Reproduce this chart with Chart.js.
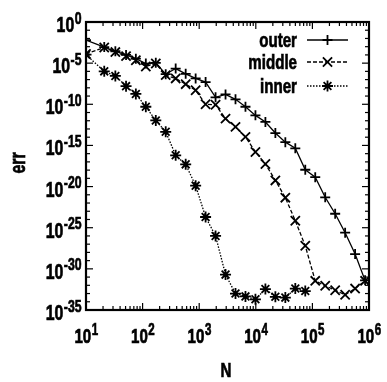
<!DOCTYPE html>
<html>
<head>
<meta charset="utf-8">
<script src="https://cdn.jsdelivr.net/npm/chart.js@4.4.0/dist/chart.umd.min.js"></script>
<style>
  html, body { margin: 0; padding: 0; background: #fff; }
  #wrap { width: 387px; height: 382px; }
</style>
</head>
<body>
<div id="wrap"><canvas id="errChart" width="387" height="382"></canvas></div>
<script>
// N samples (x axis)
const nValues = [10, 21, 33, 51, 76, 114, 171, 256, 384, 577, 865, 1297, 1946, 2919, 4379,
  6568, 9853, 14779, 22168, 33253, 49879, 74818, 112227, 168341, 252512, 378768, 568151, 852227, 1278340];

// err
const outerErr = [6.3e-3, 8.9e-4, 2.8e-4, 1.0e-4, 3.5e-5, 8.9e-6, 1.1e-5, 4.5e-7, 2.2e-6, 5.0e-7,
  1.4e-7, 5.0e-8, 7.1e-10, 1.6e-9, 4.0e-10, 5.0e-11, 4.5e-12, 7.1e-13, 3.2e-14, 2.5e-15,
  4.5e-16, 1.1e-18, 1.4e-19, 5.0e-22, 5.0e-24, 2.5e-26, 6.3e-29, 4.0e-32, 1.0e-33];
const middleErr = [1.3e-4, 7.9e-4, 2.2e-4, 7.1e-5, 2.2e-5, 4.0e-6, 8.9e-6, 3.5e-7, 1.4e-7, 2.8e-8,
  5.0e-9, 1.0e-10, 8.9e-11, 1.8e-12, 1.8e-13, 1.1e-14, 1.6e-16, 5.6e-18, 5.6e-20, 4.5e-22,
  7.1e-25, 6.3e-28, 3.5e-32, 8.9e-33, 2.5e-33, 7.1e-34, 4.0e-33, 3.5e-32];
const innerErr = [1.1e-4, 1.0e-6, 2.8e-7, 1.6e-8, 1.8e-9, 5.0e-11, 1.1e-12, 4.5e-14, 6.3e-17, 5.0e-18,
  1.3e-20, 2.0e-24, 1.0e-26, 2.0e-31, 1.0e-33, 4.5e-34, 2.0e-34, 3.5e-33, 4.0e-34, 3.2e-34,
  4.0e-33, 2.0e-33];

const xTickExp = [1, 2, 3, 4, 5, 6];
const yTickExp = [0, -5, -10, -15, -20, -25, -30, -35];
const seriesNames = ['outer', 'middle', 'inner'];

const toPoints = arr => arr.map((v, i) => ({ x: nValues[i], y: v }));

const SQ = 0.72;
const FONT = '"Liberation Sans", Arial, sans-serif';

function txt(ctx, s, x, y, size, align) {
  ctx.save();
  ctx.font = 'bold ' + size + 'px ' + FONT;
  ctx.textBaseline = 'alphabetic';
  ctx.textAlign = align;
  ctx.fillStyle = '#000';
  ctx.strokeStyle = '#000';
  ctx.lineWidth = 0.7;
  ctx.setLineDash([]);
  ctx.translate(x, y);
  ctx.scale(SQ, 1);
  ctx.fillText(s, 0, 0);
  ctx.strokeText(s, 0, 0);
  ctx.restore();
}

function txtWidth(ctx, s, size) {
  ctx.font = 'bold ' + size + 'px ' + FONT;
  return ctx.measureText(s).width * SQ;
}

function pow10(ctx, exp, x, y, align, size) {
  const e = String(exp);
  const es = Math.round(size * 0.78);
  const wb = txtWidth(ctx, '10', size), we = txtWidth(ctx, e, es);
  const left = align === 'right' ? x - wb - we : x - (wb + we) / 2;
  txt(ctx, '10', left, y, size, 'left');
  txt(ctx, e, left + wb + 0.5, y - 8.5, es, 'left');
}

function seg(ctx, x1, y1, x2, y2) {
  ctx.beginPath();
  ctx.moveTo(x1, y1);
  ctx.lineTo(x2, y2);
  ctx.stroke();
}

const gnuFrame = {
  id: 'gnuFrame',
  afterDraw(chart) {
    const { ctx, chartArea: a, scales: { x, y } } = chart;
    ctx.save();
    ctx.strokeStyle = '#000';
    ctx.lineWidth = 1.2;
    ctx.setLineDash([]);

    // x ticks, inward, bottom and top
    for (let d = 1; d <= 6; d++) {
      for (let m = 1; m < 10; m++) {
        if (d === 6 && m > 1) break;
        const px = x.getPixelForValue(m * Math.pow(10, d));
        const len = m === 1 ? 7 : 4;
        seg(ctx, px, a.bottom, px, a.bottom - len);
        seg(ctx, px, a.top, px, a.top + len);
      }
    }
    // y ticks, one per decade
    for (let e = 0; e >= -35; e--) {
      const py = y.getPixelForValue(Math.pow(10, e));
      const len = e % 5 === 0 ? 7 : 4;
      seg(ctx, a.left, py, a.left + len, py);
      seg(ctx, a.right, py, a.right - len, py);
    }

    ctx.lineWidth = 2.2;
    ctx.strokeRect(a.left, a.top, a.right - a.left, a.bottom - a.top);

    xTickExp.forEach(e => pow10(ctx, e, x.getPixelForValue(Math.pow(10, e)), 343, 'center', 21));
    yTickExp.forEach(e => pow10(ctx, e, 81, y.getPixelForValue(Math.pow(10, e)) + 10, 'right', 22));

    txt(ctx, 'N', 226, 377, 21, 'center');
    ctx.save();
    ctx.translate(25, 163);
    ctx.rotate(-Math.PI / 2);
    txt(ctx, 'err', 0, 0, 22, 'center');
    ctx.restore();

    // key
    const rows = [47, 69, 93];
    chart.data.datasets.forEach((ds, i) => {
      const by = rows[i];
      txt(ctx, seriesNames[i], 297, by, 21, 'right');
      const ly = by - 7;
      ctx.lineWidth = ds.borderWidth;
      ctx.setLineDash(ds.borderDash || []);
      seg(ctx, 307, ly, 348, ly);
      ctx.setLineDash([]);
      ctx.lineWidth = ds.pointBorderWidth;
      Chart.helpers.drawPoint(ctx, {
        pointStyle: ds.pointStyle, radius: ds.pointRadius, rotation: 0, borderWidth: ds.pointBorderWidth
      }, 327.5, ly);
    });
    ctx.restore();
  }
};

const ctx1 = document.getElementById('errChart').getContext('2d');
new Chart(ctx1, {
  type: 'line',
  data: {
    datasets: [
      {
        label: 'outer', data: toPoints(outerErr),
        borderColor: '#000', backgroundColor: '#000', borderWidth: 1.3,
        pointStyle: 'cross', pointRadius: 5, pointBorderWidth: 1.8
      },
      {
        label: 'middle', data: toPoints(middleErr),
        borderColor: '#000', backgroundColor: '#000', borderWidth: 1.3, borderDash: [4, 2],
        pointStyle: 'crossRot', pointRadius: 6.5, pointBorderWidth: 1.8
      },
      {
        label: 'inner', data: toPoints(innerErr),
        borderColor: '#000', backgroundColor: '#000', borderWidth: 1.3, borderDash: [1.5, 1.5],
        pointStyle: 'star', pointRadius: 5.5, pointBorderWidth: 1.8
      }
    ]
  },
  options: {
    responsive: false,
    animation: false,
    devicePixelRatio: 1,
    layout: { padding: { left: 86, right: 18, top: 22, bottom: 72 } },
    plugins: { legend: { display: false }, tooltip: { enabled: false } },
    elements: { line: { tension: 0 } },
    scales: {
      x: { type: 'logarithmic', min: 10, max: 1e6, display: false },
      y: { type: 'logarithmic', min: 1e-35, max: 1, display: false }
    }
  },
  plugins: [gnuFrame]
});
</script>
</body>
</html>
